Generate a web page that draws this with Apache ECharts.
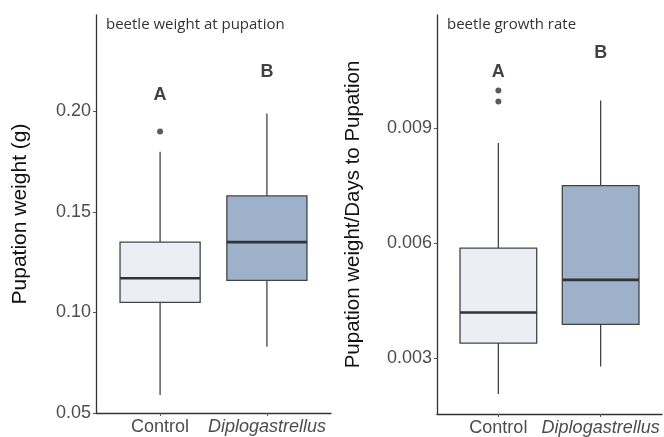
<!DOCTYPE html>
<html>
<head>
<meta charset="utf-8">
<script src="https://cdn.jsdelivr.net/npm/echarts@6/dist/echarts.min.js"></script>
<style>
  html, body { margin: 0; padding: 0; background: #fff; }
  #chart { width: 664px; height: 437px; }
</style>
</head>
<body>
<div id="chart"></div>
<script>
// groups, x positions 1 and 2
var groups = ['Control', 'Diplogastrellus'];
var groupPos = [1, 2];

// weight at pupation: [min, Q1, median, Q3, max]
var weightBoxes = [
  [0.059, 0.105, 0.117, 0.135, 0.180],
  [0.083, 0.116, 0.135, 0.158, 0.199]
];
var weightOutliers = [[1, 0.190]];
var weightLetters = [[1, 0.208, 'A'], [2, 0.2195, 'B']];
var weightTicks = [0.05, 0.10, 0.15, 0.20];

// growth rate: [min, Q1, median, Q3, max]
var rateBoxes = [
  [0.00206, 0.00339, 0.00419, 0.00587, 0.00861],
  [0.00278, 0.00388, 0.00504, 0.00750, 0.00972]
];
var rateOutliers = [[1, 0.00969], [1, 0.00998]];
var rateLetters = [[1, 0.01045, 'A'], [2, 0.01095, 'B']];
var rateTicks = [0.003, 0.006, 0.009];

var fills = ['#eceef5', '#9db2ca'];
var txt = '#4d4d4d';
var font = 'Liberation Sans';

var chart = echarts.init(document.getElementById('chart'));

function boxData(boxes) {
  return boxes.map(function(b, i) { return [groupPos[i]].concat(b); });
}

// ggplot-style box: no whisker caps, thick median
function renderBox(params, api) {
  var x = api.value(0);
  var half = api.size([0.75, 0])[0] / 2;
  var pMin = api.coord([x, api.value(1)]);
  var pQ1 = api.coord([x, api.value(2)]);
  var pMed = api.coord([x, api.value(3)]);
  var pQ3 = api.coord([x, api.value(4)]);
  var pMax = api.coord([x, api.value(5)]);
  var line = { stroke: '#444', lineWidth: 1.3 };
  return {
    type: 'group',
    children: [
      { type: 'line', shape: { x1: pMax[0], y1: pMax[1], x2: pQ3[0], y2: pQ3[1] }, style: line },
      { type: 'line', shape: { x1: pQ1[0], y1: pQ1[1], x2: pMin[0], y2: pMin[1] }, style: line },
      { type: 'rect', shape: { x: pQ3[0] - half, y: pQ3[1], width: half * 2, height: pQ1[1] - pQ3[1] },
        style: { fill: fills[params.dataIndex], stroke: '#444', lineWidth: 1.3 } },
      { type: 'line', shape: { x1: pMed[0] - half, y1: pMed[1], x2: pMed[0] + half, y2: pMed[1] },
        style: { stroke: '#333', lineWidth: 2.6 } }
    ]
  };
}

function xAxis(idx) {
  return {
    type: 'value', gridIndex: idx, min: 0.4, max: 2.6,
    axisLine: { show: true, lineStyle: { color: '#333', width: 1.3 } },
    splitLine: { show: false },
    axisTick: { show: true, customValues: groupPos, length: 3, lineStyle: { color: '#555' } },
    axisLabel: {
      customValues: groupPos, margin: 5,
      formatter: function(v) {
        var i = groupPos.indexOf(v);
        return i === 1 ? '{it|' + groups[i] + '}' : '{n|' + groups[i] + '}';
      },
      rich: {
        n: { fontFamily: font, fontSize: 18, color: txt },
        it: { fontFamily: font, fontSize: 18, color: txt, fontStyle: 'italic' }
      }
    }
  };
}

function yAxis(idx, min, max, ticks, digits, name, gap, nameSize) {
  return {
    type: 'value', gridIndex: idx, min: min, max: max,
    name: name, nameLocation: 'middle', nameGap: gap,
    nameTextStyle: { fontFamily: font, fontSize: nameSize, color: '#111' },
    axisLine: { show: true, lineStyle: { color: '#333', width: 1.3 } },
    splitLine: { show: false },
    axisTick: { show: true, customValues: ticks, length: 3, lineStyle: { color: '#555' } },
    axisLabel: {
      customValues: ticks, margin: 5,
      fontFamily: font, fontSize: 18, color: txt,
      formatter: function(v) { return v.toFixed(digits); }
    }
  };
}

function seriesFor(idx, boxes, outliers, letters) {
  return [
    {
      type: 'custom', xAxisIndex: idx, yAxisIndex: idx,
      renderItem: renderBox,
      encode: { x: 0, y: [1, 2, 3, 4, 5] },
      data: boxData(boxes)
    },
    {
      type: 'scatter', xAxisIndex: idx, yAxisIndex: idx,
      symbolSize: 6, itemStyle: { color: '#333' },
      data: outliers
    },
    {
      type: 'scatter', xAxisIndex: idx, yAxisIndex: idx,
      symbolSize: 0,
      label: {
        show: true, position: 'inside',
        formatter: function(p) { return p.value[2]; },
        fontFamily: font, fontSize: 18, fontWeight: 'bold', color: '#111'
      },
      data: letters
    }
  ];
}

var option = {
  animation: false,
  backgroundColor: '#fff',
  title: [
    { text: 'beetle weight at pupation', left: 101, top: 12,
      textStyle: { fontFamily: 'Open Sans', fontSize: 15, fontWeight: 'normal', color: '#333' } },
    { text: 'beetle growth rate', left: 442, top: 12,
      textStyle: { fontFamily: 'Open Sans', fontSize: 15, fontWeight: 'normal', color: '#333' } }
  ],
  grid: [
    { left: 96, top: 15, width: 235, bottom: 24 },
    { left: 437, top: 15, width: 225, bottom: 22 }
  ],
  xAxis: [xAxis(0), xAxis(1)],
  yAxis: [
    yAxis(0, 0.05, 0.248, weightTicks, 2, 'Pupation weight (g)', 65, 21),
    yAxis(1, 0.00154, 0.01195, rateTicks, 3, 'Pupation weight/Days to Pupation', 73, 20.5)
  ],
  series: []
    .concat(seriesFor(0, weightBoxes, weightOutliers, weightLetters))
    .concat(seriesFor(1, rateBoxes, rateOutliers, rateLetters))
};

chart.setOption(option);
</script>
</body>
</html>
